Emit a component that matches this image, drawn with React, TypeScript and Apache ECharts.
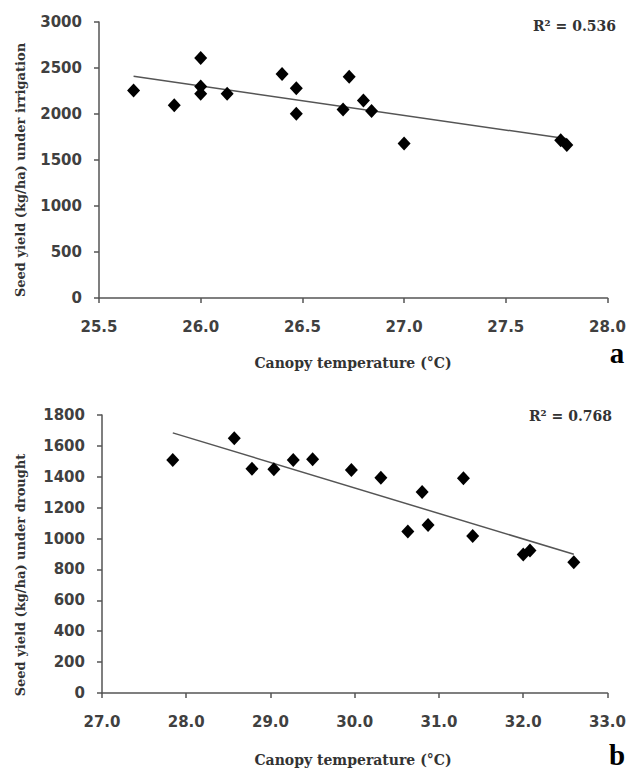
import React, { useEffect, useRef } from "react";
import * as echarts from "echarts";

// Panel a: irrigation
const tempIrrigation = [25.67, 25.87, 26.0, 26.0, 26.0, 26.13, 26.4, 26.47, 26.47, 26.7, 26.73, 26.8, 26.84, 27.0, 27.77, 27.8];
const yieldIrrigation = [2255, 2094, 2608, 2299, 2219, 2219, 2435, 2281, 2004, 2050, 2406, 2148, 2032, 1680, 1716, 1662];
const xTicksA = { min: 25.5, max: 28.0, interval: 0.5 };
const yTicksA = { min: 0, max: 3000, interval: 500 };
const r2A = "R² = 0.536";

// Panel b: drought
const tempDrought = [27.84, 28.57, 28.78, 29.04, 29.27, 29.5, 29.96, 30.31, 30.63, 30.8, 30.87, 31.29, 31.4, 32.0, 32.08, 32.6];
const yieldDrought = [1508, 1649, 1452, 1448, 1508, 1513, 1444, 1394, 1046, 1301, 1087, 1390, 1016, 897, 923, 847];
const xTicksB = { min: 27.0, max: 33.0, interval: 1 };
const yTicksB = { min: 0, max: 1800, interval: 200 };
const r2B = "R² = 0.768";

const xTitle = "Canopy temperature (°C)";
const yTitleA = "Seed yield (kg/ha) under irrigation";
const yTitleB = "Seed yield (kg/ha) under drought";

function trend(xs: number[], ys: number[]) {
  const n = xs.length;
  const mx = xs.reduce((a, b) => a + b, 0) / n;
  const my = ys.reduce((a, b) => a + b, 0) / n;
  let sxy = 0, sxx = 0;
  for (let i = 0; i < n; i++) {
    sxy += (xs[i] - mx) * (ys[i] - my);
    sxx += (xs[i] - mx) * (xs[i] - mx);
  }
  const b = sxy / sxx;
  const a = my - b * mx;
  const x0 = Math.min(...xs), x1 = Math.max(...xs);
  return [[x0, a + b * x0], [x1, a + b * x1]];
}

const SANS = "DejaVu Sans";
const SERIF = "DejaVu Serif";
const AXIS_COLOR = "#555";
const LABEL_COLOR = "#404040";

function xAxisCfg(gridIndex: number, t: { min: number; max: number; interval: number }) {
  return {
    type: "value",
    gridIndex,
    min: t.min,
    max: t.max,
    interval: t.interval,
    axisLine: { show: true, onZero: false, lineStyle: { color: AXIS_COLOR, width: 1.5 } },
    axisTick: { show: true, length: 5, lineStyle: { color: AXIS_COLOR, width: 1.5 } },
    splitLine: { show: false },
    axisLabel: {
      formatter: (v: number) => v.toFixed(1),
      margin: 21,
      fontFamily: SANS,
      fontWeight: "bold",
      fontSize: 15,
      color: LABEL_COLOR,
      showMaxLabel: true,
      showMinLabel: true,
    },
  };
}

function yAxisCfg(gridIndex: number, t: { min: number; max: number; interval: number }) {
  return {
    type: "value",
    gridIndex,
    min: t.min,
    max: t.max,
    interval: t.interval,
    axisLine: { show: true, lineStyle: { color: AXIS_COLOR, width: 1.5 } },
    axisTick: { show: true, length: 5, lineStyle: { color: AXIS_COLOR, width: 1.5 } },
    splitLine: { show: false },
    axisLabel: {
      formatter: (v: number) => String(v),
      margin: 17,
      fontFamily: SANS,
      fontWeight: "bold",
      fontSize: 15,
      color: LABEL_COLOR,
    },
  };
}

function scatter(idx: number, xs: number[], ys: number[]) {
  return {
    type: "scatter",
    xAxisIndex: idx,
    yAxisIndex: idx,
    symbol: "diamond",
    symbolSize: [13, 14],
    itemStyle: { color: "#000", opacity: 1 },
    data: xs.map((x, i) => [x, ys[i]]),
    z: 3,
  };
}

function line(idx: number, xs: number[], ys: number[]) {
  return {
    type: "line",
    xAxisIndex: idx,
    yAxisIndex: idx,
    showSymbol: false,
    symbol: "none",
    lineStyle: { color: "#555", width: 1.5 },
    data: trend(xs, ys),
    z: 2,
  };
}

export default function App() {
  const ref = useRef<HTMLDivElement>(null);
  useEffect(() => {
    if (!ref.current) return;
    const chart = echarts.init(ref.current, undefined, { renderer: "svg" });
    const titleStyle = { fontFamily: SERIF, fontWeight: "bold", fill: "#333", align: "center", verticalAlign: "middle" };
    chart.setOption({
      animation: false,
      backgroundColor: "#fff",
      grid: [
        { left: 99, top: 22, width: 509, height: 276 },
        { left: 102, top: 415, width: 506, height: 278 },
      ],
      xAxis: [xAxisCfg(0, xTicksA), xAxisCfg(1, xTicksB)],
      yAxis: [yAxisCfg(0, yTicksA), yAxisCfg(1, yTicksB)],
      series: [
        line(0, tempIrrigation, yieldIrrigation),
        scatter(0, tempIrrigation, yieldIrrigation),
        line(1, tempDrought, yieldDrought),
        scatter(1, tempDrought, yieldDrought),
      ],
      graphic: [
        { type: "text", x: 20, y: 170, rotation: Math.PI / 2, style: { ...titleStyle, text: yTitleA, fontSize: 13 } },
        { type: "text", x: 20, y: 575, rotation: Math.PI / 2, style: { ...titleStyle, text: yTitleB, fontSize: 13 } },
        { type: "text", x: 353, y: 363, style: { ...titleStyle, text: xTitle, fontSize: 14 } },
        { type: "text", x: 353, y: 760, style: { ...titleStyle, text: xTitle, fontSize: 14 } },
        { type: "text", x: 616, y: 26, style: { ...titleStyle, align: "right", text: r2A, fontSize: 14 } },
        { type: "text", x: 612, y: 416, style: { ...titleStyle, align: "right", text: r2B, fontSize: 14 } },
        { type: "text", x: 617, y: 353, style: { fontFamily: "Liberation Serif", fontWeight: "bold", fontSize: 29, fill: "#000", align: "center", verticalAlign: "middle", text: "a" } },
        { type: "text", x: 617, y: 755, style: { fontFamily: "Liberation Serif", fontWeight: "bold", fontSize: 29, fill: "#000", align: "center", verticalAlign: "middle", text: "b" } },
      ],
    });
    return () => chart.dispose();
  }, []);
  return <div ref={ref} style={{ position: "absolute", left: 0, top: 0, width: 629, height: 773 }} />;
}
